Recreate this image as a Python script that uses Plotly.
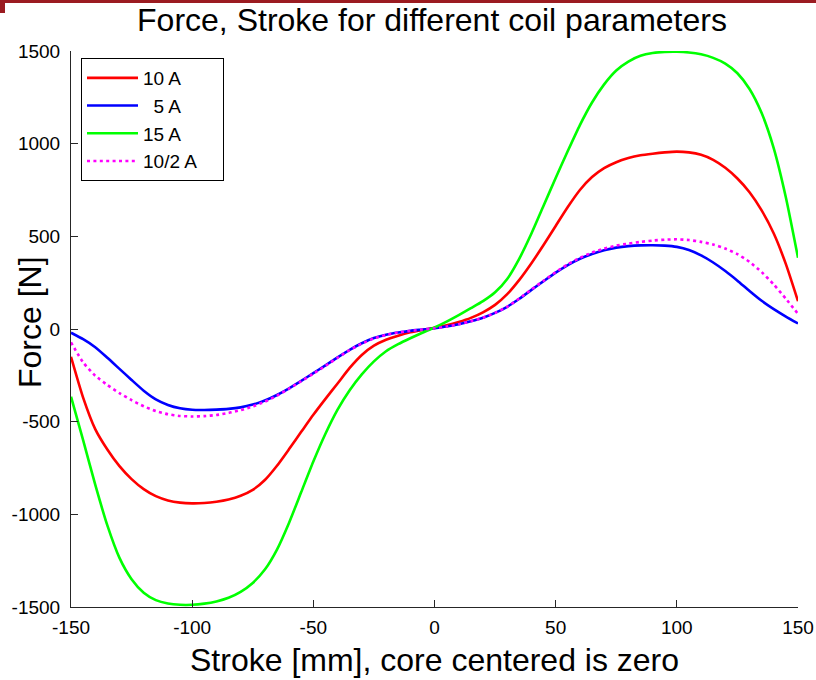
import plotly.graph_objects as go

# ---------------- data ----------------
stroke_mm = list(range(-150, 155, 5))

force_10A = [-150, -370, -540, -650, -740, -810, -864, -902, -925, -937,
             -941, -939, -932, -920, -900, -868, -815, -738, -648, -555,
             -463, -377, -294, -210, -140, -90, -58, -36, -18, -5,
             6,
             20, 38, 60, 90, 130, 188, 265, 355, 453, 556,
             658, 750, 820, 868, 900, 922, 937, 946, 953, 957,
             953, 940, 913, 870, 812, 738, 640, 515, 350, 150]

force_5A = [-20, -55, -98, -155, -215, -275, -333, -380, -410, -428,
            -436, -437, -435, -431, -423, -408, -386, -356, -320, -280,
            -238, -196, -153, -112, -77, -49, -31, -19, -10, -3,
            4,
            13, 26, 42, 61, 87, 120, 163, 211, 258, 304,
            345, 379, 405, 425, 439, 447, 451, 452, 450, 443,
            426, 397, 359, 313, 261, 205, 152, 107, 67, 30]

force_15A = [-365, -600, -840, -1060, -1235, -1350, -1423, -1463, -1481, -1488,
             -1488, -1482, -1470, -1450, -1418, -1370, -1298, -1190, -1045, -880,
             -715, -565, -435, -330, -245, -175, -120, -82, -50, -20,
             8,
             40, 75, 112, 150, 198, 270, 380, 515, 665, 815,
             960, 1100, 1222, 1320, 1395, 1443, 1474, 1489, 1495, 1496,
             1492, 1482, 1463, 1432, 1380, 1295, 1165, 975, 710, 385]

force_10_2A = [-72, -180, -252, -302, -346, -384, -417, -443, -460, -469,
               -472, -470, -464, -453, -438, -418, -392, -360, -322, -282,
               -241, -199, -155, -114, -79, -51, -32, -19, -10, -3,
               4,
               13, 26, 42, 61, 87, 120, 165, 213, 260, 307,
               349, 384, 412, 434, 450, 461, 470, 477, 482, 484,
               480, 470, 456, 434, 404, 362, 307, 240, 163, 82]

series_names = ["10 A", "\u00a0\u00a05 A", "15 A", "10/2 A"]

x_ticks = [-150, -100, -50, 0, 50, 100, 150]
y_ticks = [-1500, -1000, -500, 0, 500, 1000, 1500]

# ---------------- figure ----------------
W, H = 816, 680
ML, MR, MT, MB = 71, 18, 51, 73
PW, PH = W - ML - MR, H - MT - MB

FONT = "Liberation Sans, Arial, Helvetica, sans-serif"
AXC = "#262626"
PAD = "\u00a0" * 4  # right padding inside the legend box

fig = go.Figure()
styles = [
    dict(color="#FF0000", width=2.6),
    dict(color="#0000FF", width=2.6),
    dict(color="#00FF00", width=2.6),
    dict(color="#FF00FF", width=2.6, dash="3px,3.4px"),
]
for name, ys, st in zip(series_names,
                        [force_10A, force_5A, force_15A, force_10_2A],
                        styles):
    fig.add_trace(go.Scatter(x=stroke_mm, y=ys, mode="lines", name=name + PAD,
                             line=dict(shape="spline", smoothing=0.6, **st)))


def px_to_paper_x(px):
    return (px - ML) / PW


def px_to_paper_y(py):
    return (H - MB - py) / PH


fig.update_layout(
    width=W, height=H, autosize=False,
    margin=dict(l=ML, r=MR, t=MT, b=MB, pad=0, autoexpand=False),
    paper_bgcolor="white", plot_bgcolor="white",
    font=dict(family=FONT, color="black", size=19),
    title=dict(text="Force, Stroke for different coil parameters",
               x=432 / W, xanchor="center",
               y=1 - 20 / H, yanchor="middle",
               font=dict(size=32, family=FONT, color="black")),
    xaxis=dict(range=[-150, 150], tickvals=x_ticks,
               ticktext=[str(v) for v in x_ticks],
               showgrid=False, zeroline=False, showline=True,
               linecolor=AXC, linewidth=1, mirror=False, automargin=False,
               ticks="inside", ticklen=7, tickwidth=1, tickcolor=AXC,
               tickfont=dict(size=19), ticklabelstandoff=3),
    yaxis=dict(range=[-1500, 1500], tickvals=y_ticks,
               ticktext=[str(v) for v in y_ticks],
               showgrid=False, zeroline=False, showline=True,
               linecolor=AXC, linewidth=1, mirror=False, automargin=False,
               ticks="inside", ticklen=7, tickwidth=1, tickcolor=AXC,
               tickfont=dict(size=19), ticklabelstandoff=6),
    legend=dict(x=px_to_paper_x(81), y=px_to_paper_y(58),
                xanchor="left", yanchor="top",
                bgcolor="white", bordercolor="black", borderwidth=1,
                font=dict(size=19, family=FONT, color="black"),
                tracegroupgap=0, itemwidth=51),
    showlegend=True,
)

# axis titles as annotations
fig.add_annotation(text="Stroke [mm], core centered is zero",
                   xref="paper", yref="paper",
                   x=0.5, y=px_to_paper_y(660), xanchor="center", yanchor="middle",
                   showarrow=False, font=dict(size=32, family=FONT, color="black"))
fig.add_annotation(text="Force [N]",
                   xref="paper", yref="paper",
                   x=px_to_paper_x(30), y=px_to_paper_y(322), xanchor="center", yanchor="middle",
                   textangle=-90,
                   showarrow=False, font=dict(size=32, family=FONT, color="black"))

# dark red banner at top of page
RED = "#9B1B21"
fig.add_shape(type="rect", xref="paper", yref="paper", layer="above",
              x0=px_to_paper_x(0), x1=px_to_paper_x(W),
              y0=px_to_paper_y(3), y1=px_to_paper_y(0),
              line=dict(width=0), fillcolor=RED)
fig.add_shape(type="rect", xref="paper", yref="paper", layer="above",
              x0=px_to_paper_x(0), x1=px_to_paper_x(5),
              y0=px_to_paper_y(13), y1=px_to_paper_y(0),
              line=dict(width=0), fillcolor=RED)

fig.write_html("out.html")
